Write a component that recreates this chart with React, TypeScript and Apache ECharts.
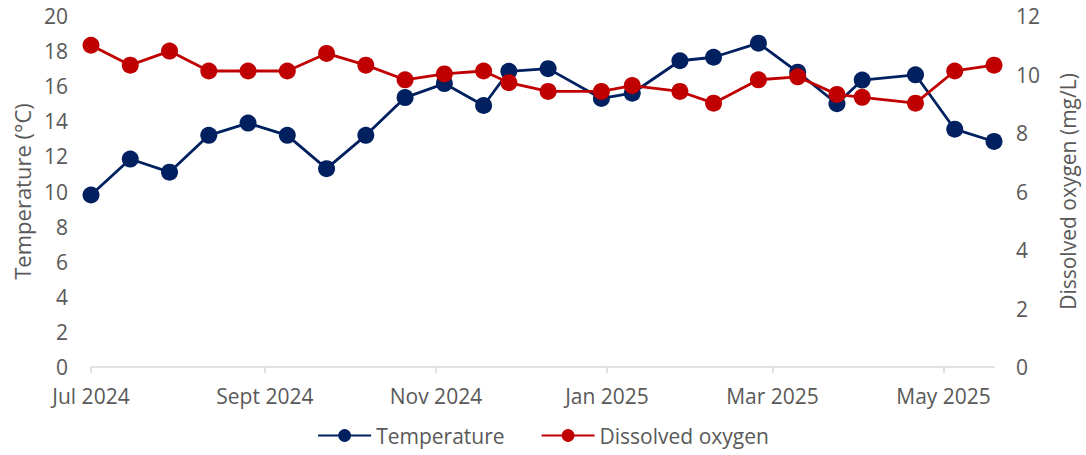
import React, { useEffect, useRef } from "react";
import * as echarts from "echarts";

const sampleDates = [
  "2024-07-01", "2024-07-15", "2024-07-29", "2024-08-12", "2024-08-26", "2024-09-09",
  "2024-09-23", "2024-10-07", "2024-10-21", "2024-11-04", "2024-11-18", "2024-11-27",
  "2024-12-11", "2024-12-30", "2025-01-10", "2025-01-27", "2025-02-08", "2025-02-24",
  "2025-03-10", "2025-03-24", "2025-04-02", "2025-04-21", "2025-05-05", "2025-05-19",
];

const temperature = [
  9.8, 11.85, 11.1, 13.2, 13.9, 13.2, 11.3, 13.2, 15.35, 16.15, 14.9, 16.85,
  17.0, 15.3, 15.6, 17.45, 17.65, 18.45, 16.8, 15.0, 16.35, 16.65, 13.55, 12.85,
];

const dissolvedOxygen = [
  11.0, 10.32, 10.8, 10.12, 10.12, 10.12, 10.72, 10.32, 9.82, 10.02, 10.12, 9.72,
  9.42, 9.42, 9.62, 9.42, 9.02, 9.82, 9.92, 9.32, 9.22, 9.02, 10.12, 10.32,
];

const tickDates = ["2024-07-01", "2024-09-01", "2024-11-01", "2025-01-01", "2025-03-01", "2025-05-01"];
const monthNames = ["Jan", "Feb", "Mar", "Apr", "May", "Jun", "Jul", "Aug", "Sept", "Oct", "Nov", "Dec"];

const toTs = (s: string) => Date.parse(s + "T00:00:00Z");

const FONT = "'Open Sans', sans-serif";
const GREY = "#595959";

export default function App() {
  const ref = useRef<HTMLDivElement>(null);

  useEffect(() => {
    document.body.style.margin = "0";
    if (!ref.current) return;
    const chart = echarts.init(ref.current, undefined, { renderer: "svg" });
    const xs = sampleDates.map(toTs);
    const option: any = {
      animation: false,
      textStyle: { fontFamily: FONT },
      grid: { left: 91, right: 88, top: 16, bottom: 88, containLabel: false },
      legend: {
        bottom: 4,
        left: "center",
        itemWidth: 53,
        itemHeight: 16,
        itemGap: 36,
        textStyle: { fontFamily: FONT, fontSize: 21, color: GREY },
        data: ["Temperature", "Dissolved oxygen"],
      },
      xAxis: {
        type: "value",
        min: xs[0],
        max: xs[xs.length - 1],
        splitLine: { show: false },
        axisLine: { show: true, lineStyle: { color: "#d9d9d9", width: 1.5 } },
        axisTick: {
          show: true,
          length: 6,
          lineStyle: { color: "#d9d9d9", width: 1.5 },
          customValues: tickDates.map(toTs),
        },
        axisLabel: {
          customValues: tickDates.map(toTs),
          fontFamily: FONT,
          fontSize: 21,
          color: GREY,
          margin: 18,
          formatter: (v: number) => {
            const d = new Date(v);
            return monthNames[d.getUTCMonth()] + " " + d.getUTCFullYear();
          },
        },
      },
      yAxis: [
        {
          type: "value",
          min: 0,
          max: 20,
          interval: 2,
          name: "Temperature (°C)",
          nameLocation: "middle",
          nameGap: 57,
          nameTextStyle: { fontFamily: FONT, fontSize: 22, color: GREY },
          splitLine: { show: false },
          axisLine: { show: false },
          axisTick: { show: false },
          axisLabel: { fontFamily: FONT, fontSize: 21, color: GREY, margin: 23 },
        },
        {
          type: "value",
          min: 0,
          max: 12,
          interval: 2,
          position: "right",
          name: "Dissolved oxygen (mg/L)",
          nameLocation: "middle",
          nameGap: 63,
          nameTextStyle: { fontFamily: FONT, fontSize: 21, color: GREY },
          splitLine: { show: false },
          axisLine: { show: false },
          axisTick: { show: false },
          axisLabel: { fontFamily: FONT, fontSize: 21, color: GREY, margin: 22 },
        },
      ],
      series: [
        {
          name: "Temperature",
          type: "line",
          yAxisIndex: 0,
          data: xs.map((x, i) => [x, temperature[i]]),
          symbol: "circle",
          symbolSize: 17,
          itemStyle: { color: "#002060" },
          lineStyle: { color: "#002060", width: 2.8 },
          z: 2,
        },
        {
          name: "Dissolved oxygen",
          type: "line",
          yAxisIndex: 1,
          data: xs.map((x, i) => [x, dissolvedOxygen[i]]),
          symbol: "circle",
          symbolSize: 17,
          itemStyle: { color: "#C00000" },
          lineStyle: { color: "#C00000", width: 2.8 },
          z: 3,
        },
      ],
    };
    chart.setOption(option);
    return () => chart.dispose();
  }, []);

  return <div ref={ref} style={{ width: 1086, height: 455 }} />;
}
